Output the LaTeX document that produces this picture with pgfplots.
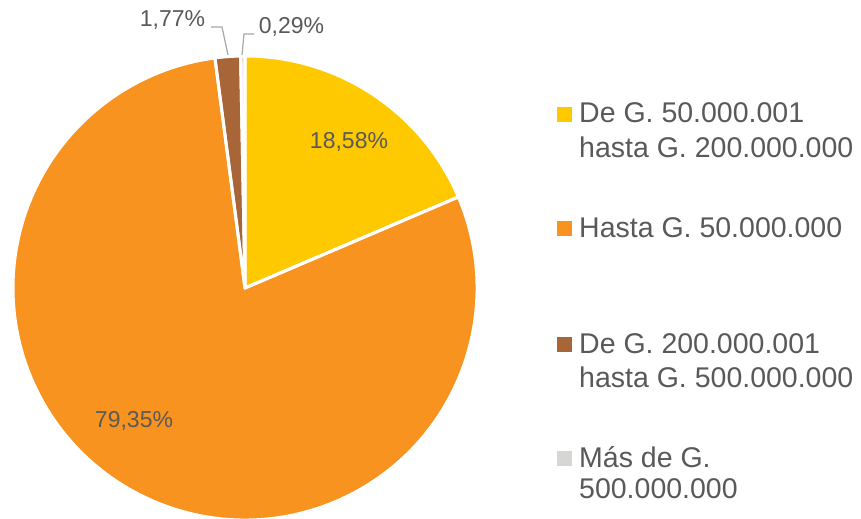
\documentclass[border=0pt]{standalone}
\usepackage{pgfplots}
\pgfplotsset{compat=1.18}
\usepackage{fontspec}
\setmainfont{Liberation Sans}
\definecolor{pyellow}{RGB}{255,201,0}
\definecolor{porange}{RGB}{247,147,30}
\definecolor{pbrown}{RGB}{168,101,55}
\definecolor{pgray}{RGB}{214,214,210}
\definecolor{ptext}{RGB}{89,89,89}
\definecolor{plead}{RGB}{166,166,166}
% shares (%)
\def\pA{18.58}\def\pB{79.35}\def\pC{1.77}\def\pD{0.29}
\begin{document}
\begin{tikzpicture}
\pgfmathsetmacro{\aA}{90}
\pgfmathsetmacro{\aB}{\aA-3.6*\pA}
\pgfmathsetmacro{\aC}{\aB-3.6*\pB}
\pgfmathsetmacro{\aD}{\aC-3.6*\pC}
\pgfmathsetmacro{\aE}{\aD-3.6*\pD}
\begin{axis}[x=1bp,y=1bp,xmin=0,xmax=861,ymin=0,ymax=519,
  hide axis, anchor=south west, at={(0,0)}]
\def\cx{245}\def\cy{231}\def\R{232bp}
\foreach \s/\e/\c in {\aA/\aB/pyellow,\aB/\aC/porange,\aC/\aD/pbrown,\aD/\aE/pgray}{
  \edef\tmp{\noexpand\fill[\c] (axis cs:\cx,\cy) -- ++(\s:\R) arc[start angle=\s, end angle=\e, radius=\R] -- cycle;}
  \tmp
}
\foreach \s/\e in {\aA/\aB,\aB/\aC,\aC/\aD,\aD/\aE}{
  \edef\tmp{\noexpand\draw[white, line width=3bp, line join=round] (axis cs:\cx,\cy) -- ++(\s:\R) arc[start angle=\s, end angle=\e, radius=\R] -- cycle;}
  \tmp
}
% data labels
\begin{scope}[every node/.style={text=ptext, font=\fontsize{23bp}{27bp}\selectfont, inner sep=0pt, anchor=base}]
\node at (axis cs:349,371) {18,58\%};
\node at (axis cs:134,92) {79,35\%};
\node at (axis cs:172.5,492) {1,77\%};
\node at (axis cs:291.5,485) {0,29\%};
\end{scope}
\draw[plead, line width=1.2bp] (axis cs:211,492) -- (axis cs:222,492) -- (axis cs:228,464);
\draw[plead, line width=1.2bp] (axis cs:254,485) -- (axis cs:244,485) -- (axis cs:242,464);
% legend
\begin{scope}[every node/.style={text=ptext, font=\fontsize{28.5bp}{34bp}\selectfont, inner sep=0pt, anchor=base west}]
\node[fill=pyellow, minimum size=14.5bp, anchor=center] at (axis cs:564.5,404.5) {};
\node at (axis cs:579,396) {De G. 50.000.001};
\node at (axis cs:579,362) {hasta G. 200.000.000};
\node[fill=porange, minimum size=14.5bp, anchor=center] at (axis cs:564.5,290.5) {};
\node at (axis cs:579,282) {Hasta G. 50.000.000};
\node[fill=pbrown, minimum size=14.5bp, anchor=center] at (axis cs:564.5,174.5) {};
\node at (axis cs:579,166) {De G. 200.000.001};
\node at (axis cs:579,132) {hasta G. 500.000.000};
\node[fill=pgray, minimum size=14.5bp, anchor=center] at (axis cs:564.5,60.5) {};
\node at (axis cs:579,52) {Más de G.};
\node at (axis cs:579,21) {500.000.000};
\end{scope}
\end{axis}
\pgfresetboundingbox
\path (0,0) rectangle (861bp,519bp);
\end{tikzpicture}
\end{document}
